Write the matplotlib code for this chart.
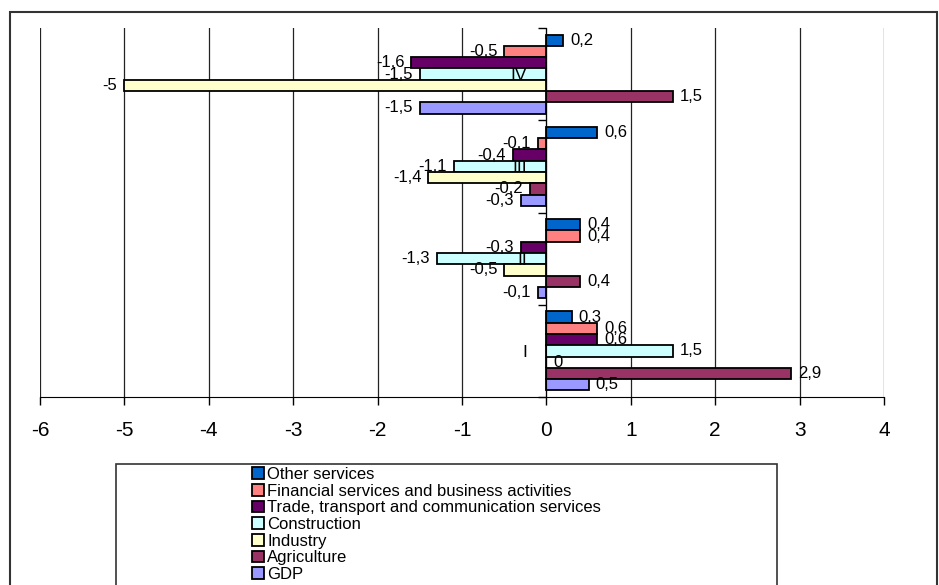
import matplotlib
matplotlib.use("Agg")
import matplotlib.pyplot as plt
from matplotlib.patches import Rectangle, Patch

plt.rcParams['font.family'] = ['Liberation Sans', 'DejaVu Sans']

quarters = ["I", "II", "III", "IV"]
series = ["Other services", "Financial services and business activities",
          "Trade, transport and communication services", "Construction",
          "Industry", "Agriculture", "GDP"]
colors = ["#0066CC", "#FF8080", "#660066", "#CCFFFF", "#FFFFCC", "#993366", "#9999FF"]

# values per series, quarters I..IV
other = [0.3, 0.4, 0.6, 0.2]
financial = [0.6, 0.4, -0.1, -0.5]
trade = [0.6, -0.3, -0.4, -1.6]
construction = [1.5, -1.3, -1.1, -1.5]
industry = [0, -0.5, -1.4, -5]
agriculture = [2.9, 0.4, -0.2, 1.5]
gdp = [0.5, -0.1, -0.3, -1.5]
values = [other, financial, trade, construction, industry, agriculture, gdp]

W, H = 939, 585
fig = plt.figure(figsize=(W / 100, H / 100), dpi=100)
ax = fig.add_axes([40 / W, 1 - 397 / H, (884 - 40) / W, (397 - 28) / H])

h = 0.122
n = len(series)
for i, (name, vals, c) in enumerate(zip(series, values, colors)):
    ys = [q + ((n - 1) / 2 - i) * h for q in range(len(quarters))]
    ax.barh(ys, vals, height=h, color=c, edgecolor='black', linewidth=1.3, zorder=3)
    for y, v in zip(ys, vals):
        txt = f"{v:g}".replace('.', ',')
        if v >= 0:
            ax.annotate(txt, (v, y), xytext=(5, 0), textcoords='offset points',
                        ha='left', va='center', fontsize=12, zorder=5)
        else:
            ax.annotate(txt, (v, y), xytext=(-5, 0), textcoords='offset points',
                        ha='right', va='center', fontsize=12, zorder=5)

ax.set_xlim(-6, 4)
ax.set_ylim(-0.5, 3.5)
ax.set_xticks(range(-6, 5))
ax.set_xticklabels([str(t) for t in range(-6, 5)], fontsize=15)
ax.tick_params(axis='x', direction='out', length=6, width=1, pad=11, colors='black')
ax.grid(axis='x', color='#222222', linewidth=0.9, zorder=0)

ax.spines['left'].set_position(('data', 0))
ax.spines['top'].set_visible(False)
ax.spines['right'].set_visible(False)
ax.spines['left'].set_zorder(4)

ax.set_yticks([-0.5, 0.5, 1.5, 2.5, 3.5])
ax.set_yticklabels([])
ax.tick_params(axis='y', which='major', direction='out', length=6, width=1)
ax.set_yticks(range(len(quarters)), minor=True)
ax.set_yticklabels(quarters, minor=True, fontsize=12.5)
ax.tick_params(axis='y', which='minor', length=0, pad=14)
ax.yaxis.set_zorder(6)

# outer frame and legend box
fig.patches.append(Rectangle((10 / W, -0.05), (937 - 10) / W, 1.05 - 12 / H,
                             transform=fig.transFigure, fill=False,
                             edgecolor='#333333', linewidth=1.5))
fig.patches.append(Rectangle((116 / W, -0.05), (777 - 116) / W, 0.05 + 1 - 464 / H,
                             transform=fig.transFigure, fill=False,
                             edgecolor='#333333', linewidth=1.2))
handles = [Patch(facecolor=c, edgecolor='black', linewidth=1.3) for c in colors]
fig.legend(handles, series, loc='upper left', bbox_to_anchor=(252 / W, 1 - 467 / H),
           frameon=False, fontsize=12, handlelength=0.72, handleheight=0.72,
           handletextpad=0.2, labelspacing=0.1, borderpad=0, borderaxespad=0)

fig.savefig("out.png", dpi=100)
